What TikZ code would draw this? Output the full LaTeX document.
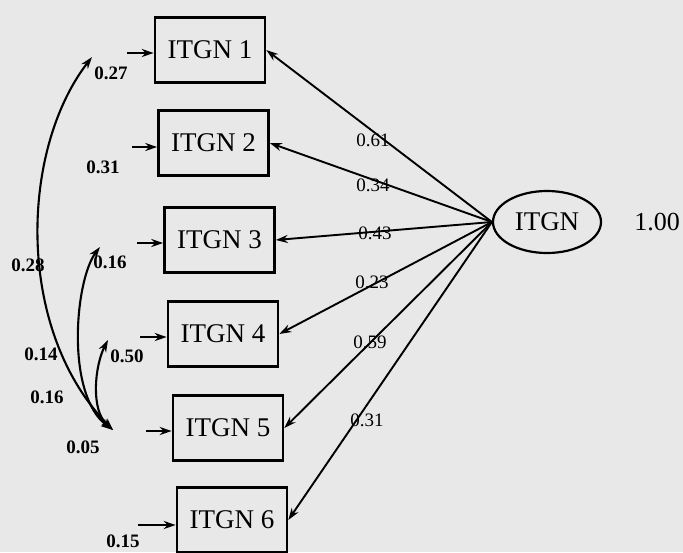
\documentclass[tikz,border=0pt]{standalone}
\usepackage{fontspec}
\setmainfont{Liberation Serif}
\usetikzlibrary{arrows.meta,shapes.geometric}
\begin{document}
\begin{tikzpicture}[x=1pt,y=-1pt,
  obs/.style={draw,line width=2.6pt,minimum width=110pt,minimum height=65pt,inner sep=0pt,font=\fontsize{27}{30}\selectfont},
  lat/.style={draw,ellipse,line width=2.2pt,minimum width=108pt,minimum height=62pt,inner sep=0pt,font=\fontsize{27}{30}\selectfont},
  arr/.style={line width=1.9pt,-{Stealth[length=12pt,width=8pt]}},
  cov/.style={line width=2.1pt,{Stealth[length=12pt,width=8pt]}-{Stealth[length=12pt,width=8pt]}},
  errlab/.style={inner sep=0pt,font=\bfseries\fontsize{19}{20}\selectfont},
  loadlab/.style={inner sep=0pt,font=\fontsize{19}{20}\selectfont},
  varlab/.style={inner sep=0pt,font=\fontsize{26}{28}\selectfont}]
\fill[black!9] (0,0) rectangle (683,552);
\useasboundingbox (0,0) rectangle (683,552);

% observed indicators
\node[obs] (b1) at (210,50) {ITGN 1};
\node[obs] (b2) at (213.5,143) {ITGN 2};
\node[obs] (b3) at (219.5,240) {ITGN 3};
\node[obs] (b4) at (223,334) {ITGN 4};
\node[obs] (b5) at (228,428) {ITGN 5};
\node[obs] (b6) at (232,520) {ITGN 6};

% latent factor
\node[lat] (f) at (547,222) {ITGN};
\node[varlab] (fv) at (657,222) {1.00};

% loadings
\foreach \i in {1,...,6}{
  \draw[arr] (f.west) -- (b\i.east);
}
\node[loadlab] (l1) at (373,140) {0.61};
\node[loadlab] (l2) at (373,185) {0.34};
\node[loadlab] (l3) at (375,233) {0.43};
\node[loadlab] (l4) at (372,282) {0.23};
\node[loadlab] (l5) at (370,342) {0.59};
\node[loadlab] (l6) at (367,420) {0.31};

% error terms
\coordinate (e1) at (127,53);
\coordinate (e2) at (132,147);
\coordinate (e3) at (137,243);
\coordinate (e4) at (140,337);
\coordinate (e5) at (146,431);
\coordinate (e6) at (138,525);
\foreach \i in {1,...,6}{
  \draw[arr] (e\i) -- (e\i -| b\i.west);
}
\node[errlab] (v1) at (111,73) {0.27};
\node[errlab] (v2) at (103,167) {0.31};
\node[errlab] (v3) at (110,262) {0.16};
\node[errlab] (v4) at (127,356) {0.50};
\node[errlab] (v5) at (83,447) {0.05};
\node[errlab] (v6) at (123,541) {0.15};

% covariances
\coordinate (c1) at (92,57);
\coordinate (c3) at (100,247);
\coordinate (c4) at (108,340);
\coordinate (c5) at (113,430);
\draw[cov] (c1) .. controls (20,150) and (15,330) .. (c5);
\draw[cov] (c3) .. controls (75,280) and (65,395) .. (c5);
\draw[cov] (c4) .. controls (95,365) and (90,410) .. (c5);
\node[errlab] (k1) at (28,265) {0.28};
\node[errlab] (k2) at (41,354) {0.14};
\node[errlab] (k3) at (47,397) {0.16};
\end{tikzpicture}
\end{document}
